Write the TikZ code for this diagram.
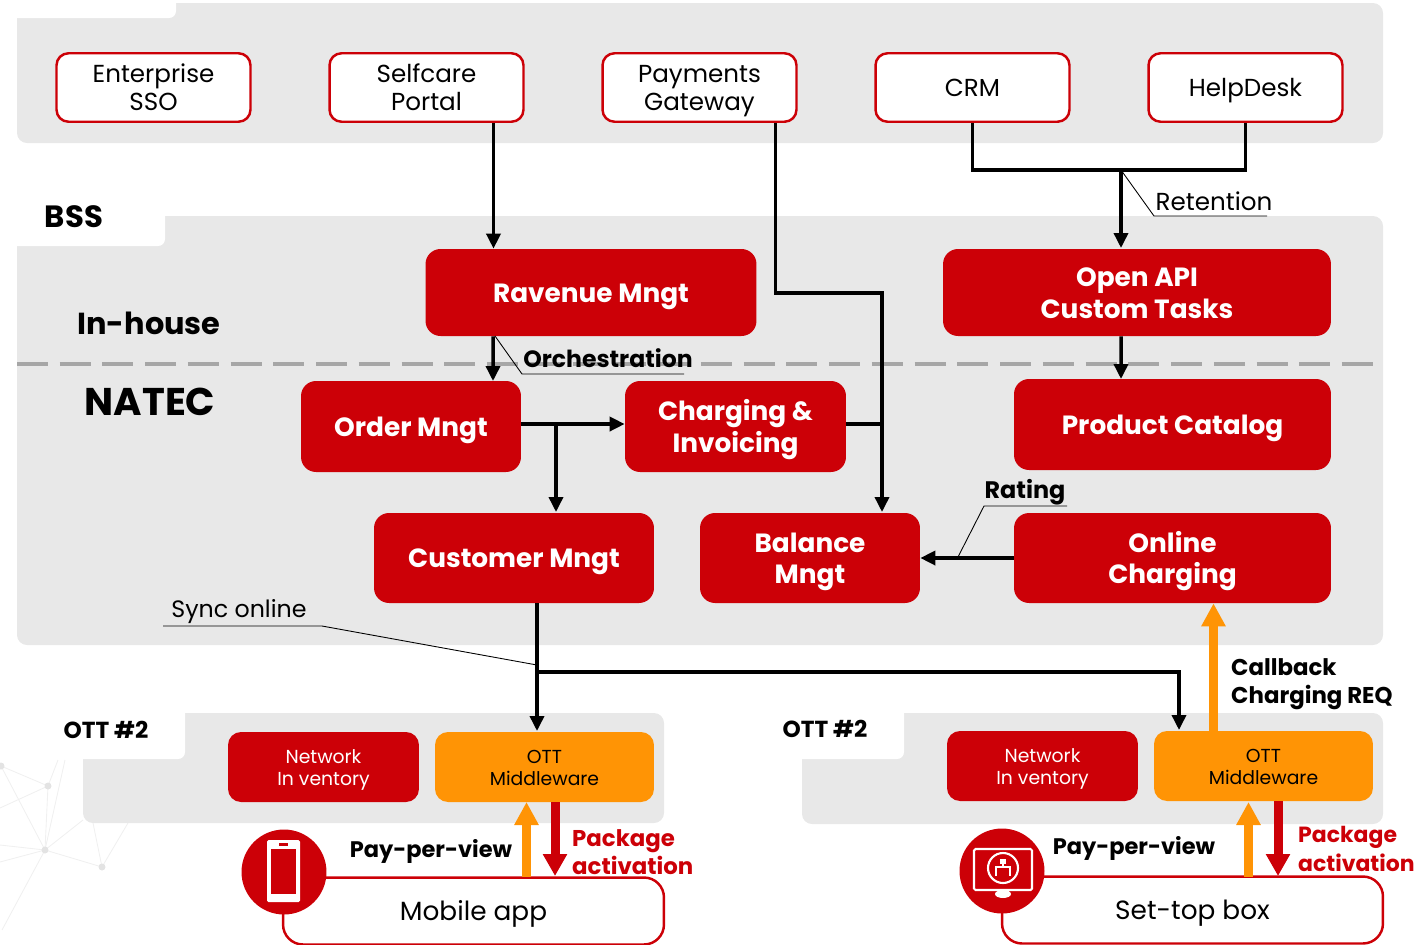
\documentclass[tikz,border=0pt]{standalone}
\usepackage{fontspec}
\setmainfont{Poppins}
\usetikzlibrary{arrows.meta,shapes.geometric}
\definecolor{panelgray}{HTML}{E8E8E8}
\definecolor{natecred}{HTML}{CC0007}
\definecolor{ottorange}{HTML}{FF9405}
\tikzset{
	panel/.style={fill=panelgray, rounded corners=0.2cm},
	notch/.style={fill=white, rounded corners=0.14cm},
	whitebox/.style={draw=natecred, line width=1.4pt, fill=white, rounded corners=0.24cm, minimum width=3.88cm, minimum height=1.37cm, align=center, inner ysep=0pt, text height=0.52cm, text depth=0.15cm, font=\fontsize{14}{16}\selectfont},
	whitetwo/.style={whitebox, text height=1.08cm},
	redbox/.style={fill=natecred, text=white, rounded corners=0.3cm, align=center, inner ysep=0pt, text height=0.555cm, text depth=0.16cm, font=\fontsize{15}{17.7}\selectfont\bfseries},
	redtwo/.style={redbox, text height=1.18cm},
	smallbox/.style={rounded corners=0.26cm, minimum width=3.82cm, minimum height=1.4cm, align=center, inner ysep=0pt, text height=0.836cm, text depth=0.113cm, font=\fontsize{10.7}{12.5}\selectfont},
	flow/.style={draw=black, line width=2pt, -{Triangle[length=0.3cm,width=0.28cm]}},
	plainflow/.style={draw=black, line width=2pt},
	leader/.style={draw=black, line width=0.5pt},
	fatup/.style={draw=ottorange, line width=0.18cm, -{Triangle[length=0.46cm,width=0.46cm]}},
	fatdown/.style={draw=natecred, line width=0.18cm, -{Triangle[length=0.44cm,width=0.46cm]}},
	tag/.style={font=\fontsize{13}{16}\selectfont\bfseries, align=left},
	appbox/.style={draw=natecred, line width=1.4pt, fill=white, rounded corners=0.4cm, minimum width=7.62cm, minimum height=1.34cm, inner ysep=0pt, text height=0.555cm, text depth=0.16cm, font=\fontsize{15}{17}\selectfont},
	badge/.style={ellipse, fill=natecred, minimum width=1.7cm, minimum height=1.7cm, inner sep=0pt},
}
\begin{document}
\begin{tikzpicture}[x=0.02cm, y=-0.02cm]
\useasboundingbox (0,0) rectangle (1417,944);

% faint network behind the left panel
\begin{scope}[draw=black!6, line width=0.5pt]
	\coordinate (netA) at (48,786);
	\coordinate (netB) at (45,850);
	\coordinate (netC) at (102,867);
	\coordinate (netD) at (1,766);
	\draw (netD) -- (netA) -- (netB) -- (netC) -- (128,823);
	\draw (netD) -- (netB) -- (0,862);
	\draw (netA) -- (0,808) (netA) -- (58,760);
	\draw (netB) -- (65,760) (netB) -- (2,930) (netB) -- (0,845) (netB) -- (83,820);
	\draw (netC) -- (93,823);
	\foreach \n in {netA,netB,netC,netD}
		\fill [black!11] (\n) circle (3.5);
\end{scope}

% panels
\fill [panel] (17,3) rectangle (1383,143);
\fill [notch] (0,-10) rectangle (176,18);
\fill [panel] (17,216) rectangle (1383,645);
\fill [notch] (0,200) rectangle (165,246);
\fill [panel] (83,713) rectangle (664,823);
\fill [notch] (60,700) rectangle (185,759);
\fill [panel] (802,713) rectangle (1383,824);
\fill [notch] (780,700) rectangle (904,759);

\draw [draw=black!35, line width=2.4pt, dash pattern=on 0.62cm off 0.235cm] (17,364) -- (1373,364);

% top row
\node [whitetwo] (sso) at (153.5,87.5) {Enterprise\\SSO};
\node [whitetwo] (selfcare) at (426.5,87.5) {Selfcare\\Portal};
\node [whitetwo] (payments) at (699.5,87.5) {Payments\\Gateway};
\node [whitebox] (crm) at (972.5,87.5) {CRM};
\node [whitebox] (helpdesk) at (1245.5,87.5) {HelpDesk};

% red boxes
\node [redbox, minimum width=6.62cm, minimum height=1.74cm] (revenue) at (591,292.5) {Ravenue Mngt};
\node [redtwo, minimum width=7.76cm, minimum height=1.74cm] (openapi) at (1137,292.5) {Open API\\Custom Tasks};
\node [redbox, minimum width=4.4cm, minimum height=1.82cm] (order) at (411,426.5) {Order Mngt};
\node [redtwo, minimum width=4.42cm, minimum height=1.82cm] (charging) at (735.5,426.5) {Charging \&\\Invoicing};
\node [redbox, minimum width=6.34cm, minimum height=1.82cm] (catalog) at (1172.5,424.5) {Product Catalog};
\node [redbox, minimum width=5.6cm, minimum height=1.8cm] (customer) at (514,558) {Customer Mngt};
\node [redtwo, minimum width=4.4cm, minimum height=1.8cm] (balance) at (810,558) {Balance\\Mngt};
\node [redtwo, minimum width=6.34cm, minimum height=1.8cm] (online) at (1172.5,558) {Online\\Charging};

% OTT boxes
\node [smallbox, fill=natecred, text=white] (inventoryL) at (323.5,767) {Network\\In ventory};
\node [smallbox, fill=ottorange, minimum width=4.38cm] (middlewareL) at (544.5,767) {OTT\\Middleware};
\node [smallbox, fill=natecred, text=white] (inventoryR) at (1042.5,766) {Network\\In ventory};
\node [smallbox, fill=ottorange, minimum width=4.38cm] (middlewareR) at (1263.5,766) {OTT\\Middleware};

% clients
\node [appbox] (mobile) at (473.5,911) {Mobile app};
\node [appbox] (settop) at (1192.5,910) {Set-top box};
\node [badge] (phone) at (284,872) {};
\node [badge] (tv) at (1002,871) {};

% phone icon
\fill [white, rounded corners=0.03cm] (267,840) rectangle (300,902);
\fill [natecred] (271,849) rectangle (296,894);
\fill [natecred] (279,843) rectangle (288,846);

% tv icon
\draw [draw=white, line width=1.2pt, rounded corners=0.03cm] (974,849) rectangle (1032,890);
\draw [draw=white, line width=1.2pt] (1003,868) circle (15);
\draw [draw=white, line width=1.3pt] (1003,860) -- (1003,867) (996,876) -- (996,867) -- (1010,867) -- (1010,876);
\fill [white] (1000,859) rectangle (1006,864);
\fill [white] (1003,894) ellipse (8 and 4);

% flows
\draw [flow] ([xshift=1.34cm]selfcare.south) -- ([xshift=1.34cm]selfcare.south |- revenue.north);
\draw [flow] ([xshift=1.52cm]payments.south) |- (882,293) -- (882,512);
\draw [plainflow] (crm.south) |- (1121,170);
\draw [plainflow] (helpdesk.south) |- (1121,170);
\draw [flow] (1121,170) -- (1121,248);
\draw [flow] ([xshift=-1.96cm]revenue.south) -- (493,381);
\draw [flow] ([xshift=-0.32cm]openapi.south) -- (1121,379);
\draw [flow] (order.east |- 0,424) -- (charging.west |- 0,424);
\draw [flow] (556,424) -- (556,512);
\draw [plainflow] (charging.east |- 0,424) -- (882,424);
\draw [flow] (online.west) -- (balance.east);
\draw [flow] (537,603) -- (537,731);
\draw [flow] (537,672) -| (1179,730);

\draw [fatup] (1213.5,731) -- (online.south -| 1213.5,0);
\draw [fatup] (526.5,877) -- (526.5,802);
\draw [fatdown] (555,802) -- (555,876);
\draw [fatup] (1248.5,877) -- (1248.5,802);
\draw [fatdown] (1278,801) -- (1278,876);

% leaders
\draw [leader] (1121,170) -- (1154,216) -- (1267,216);
\node at (1214,201) [font=\fontsize{14}{16}\selectfont] (retention) {Retention};
\draw [leader] (495,336) -- (522,374) -- (684,374);
\node [tag, font=\fontsize{13.4}{16}\selectfont\bfseries] at (608,358) (orchestration) {Orchestration};
\draw [leader] (958,557) -- (984,506) -- (1067,506);
\node [tag, font=\fontsize{13.6}{16}\selectfont\bfseries] at (1025,492) (rating) {Rating};
\draw [leader] (537,665) -- (322,626) -- (163,626);
\node at (239,612) [font=\fontsize{13.5}{16}\selectfont] (sync) {Sync online};

% titles
\node [font=\fontsize{17.5}{19}\selectfont\bfseries] at (74,217) (bss) {BSS};
\node [font=\fontsize{17.3}{22}\selectfont\bfseries] at (149,323) (inhouse) {In-house};
\node [font=\fontsize{22}{25}\selectfont\bfseries] at (150,402) (natec) {NATEC};
\node [font=\fontsize{13.2}{17}\selectfont\bfseries] at (106,730) (ottL) {OTT \#2};
\node [font=\fontsize{13.2}{17}\selectfont\bfseries] at (825,729) (ottR) {OTT \#2};
\node [tag, font=\fontsize{12.8}{16}\selectfont\bfseries] at (431,851) (ppvL) {Pay-per-view};
\node [tag, font=\fontsize{12.8}{16}\selectfont\bfseries] at (1134,848) (ppvR) {Pay-per-view};
\node [tag, anchor=west, text=natecred] at (566,852) (packL) {Package\\activation};
\node [tag, anchor=west, text=natecred, font=\fontsize{12.5}{16}\selectfont\bfseries] at (1292,849) (packR) {Package\\activation};
\node [tag, anchor=west] at (1225,684) (callback) {Callback\\Charging REQ};
\end{tikzpicture}
\end{document}
